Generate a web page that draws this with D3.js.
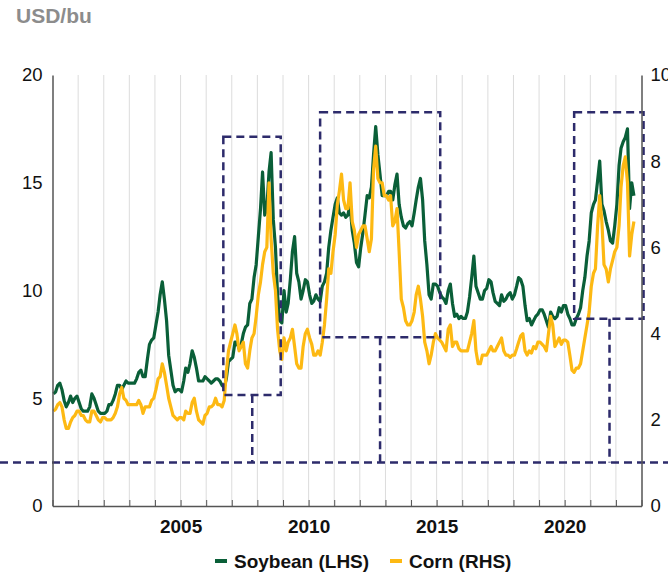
<!DOCTYPE html>
<html>
<head>
<meta charset="utf-8">
<script src="https://cdn.jsdelivr.net/npm/d3@7"></script>
<style>
  body { margin: 0; background: #fff; }
  .chart text { font-family: "Liberation Sans", Arial, sans-serif; }
</style>
</head>
<body>
<div class="chart"></div>
<script>
// Monthly prices, Jan 2000 - Sep 2022 (USD/bu)
var startYear = 2000;

var soybean = [
  5.2, 5.3, 5.6, 5.7, 5.4, 4.9, 4.6, 4.8, 5.1, 4.8, 5.0, 5.1,
  4.8, 4.5, 4.4, 4.4, 4.4, 4.6, 5.2, 5.0, 4.7, 4.4, 4.3, 4.3,
  4.3, 4.4, 4.7, 4.7, 4.9, 5.2, 5.6, 5.6, 5.4, 5.6, 5.8, 5.7,
  5.7, 5.7, 5.7, 5.9, 6.2, 6.3, 6.0, 6.0, 6.8, 7.5, 7.7, 7.8,
  8.4, 9.0, 9.8, 10.4, 9.6, 8.6, 7.0, 6.3, 5.6, 5.3, 5.4, 5.4,
  5.3, 5.8, 6.4, 6.2, 6.6, 7.2, 6.9, 6.4, 5.8, 5.8, 5.8, 6.0,
  5.9, 5.8, 5.7, 5.8, 5.9, 5.9, 5.8, 5.6, 5.5, 5.9, 6.7, 6.8,
  6.9, 7.6, 7.6, 7.3, 7.5, 8.0, 8.3, 8.4, 9.4, 9.6, 10.6, 11.2,
  12.5, 13.8, 15.5, 13.5, 13.8, 15.5, 16.4, 13.3, 12.0, 9.8, 8.6, 8.5,
  10.0, 9.0, 9.4, 10.5, 11.8, 12.5, 10.8, 10.4, 9.6, 10.0, 10.5, 10.4,
  9.8, 9.4, 9.5, 9.8, 9.6, 9.5, 10.2, 10.4, 10.8, 12.0, 12.8, 13.4,
  14.0, 14.3, 13.6, 13.5, 13.6, 13.4, 13.5, 14.0, 12.8, 12.2, 11.3, 11.1,
  12.0, 12.7, 13.5, 14.4, 14.3, 14.8, 16.3, 17.6, 16.3, 15.4, 14.4, 14.4,
  14.4, 14.6, 14.6, 14.2, 14.9, 15.4, 14.0, 13.4, 13.0, 12.9, 13.1, 13.2,
  13.0, 13.6, 14.2, 14.8, 15.2, 14.2, 12.3, 11.2, 9.8, 9.6, 10.3, 10.3,
  10.2, 9.9, 9.7, 9.6, 9.4, 10.0, 10.3, 9.4, 8.8, 8.9, 8.7, 8.8,
  8.7, 8.7, 9.0, 9.7, 10.6, 11.6, 10.2, 9.9, 9.6, 9.6, 10.0, 10.1,
  10.5, 10.4, 9.9, 9.5, 9.4, 9.3, 9.8, 9.5, 9.6, 9.8, 9.9, 9.6,
  9.8, 10.2, 10.6, 10.5, 10.2, 9.3, 8.6, 8.7, 8.4, 8.6, 8.8, 8.9,
  9.1, 9.1, 8.9, 8.6, 8.3, 9.0, 8.8, 8.7, 8.8, 9.2, 9.0, 9.3,
  9.3, 8.9, 8.7, 8.4, 8.4, 8.7, 8.9, 9.2, 10.0, 10.6, 11.6, 12.3,
  13.6, 14.0, 14.2, 15.1, 16.0, 14.0, 13.7, 13.2, 12.8, 12.3, 12.2, 13.0,
  14.0, 15.8, 16.6, 16.9, 17.1, 17.5, 13.8, 15.0, 14.4
];

var corn = [
  2.2, 2.25, 2.35, 2.4, 2.3, 2.0, 1.8, 1.8, 1.95, 2.05, 2.1, 2.2,
  2.2, 2.1, 2.1, 2.0, 1.95, 1.95, 2.2, 2.2, 2.1, 2.0, 1.95, 2.05,
  2.05, 2.0, 2.0, 2.0, 2.05, 2.15, 2.3, 2.6, 2.75, 2.5, 2.45, 2.35,
  2.35, 2.35, 2.35, 2.35, 2.45, 2.35, 2.15, 2.3, 2.3, 2.3, 2.45, 2.5,
  2.7, 2.95, 3.0, 3.3, 3.1, 2.8, 2.5, 2.3, 2.1, 2.05, 2.0, 2.05,
  2.05, 2.0, 2.2, 2.15, 2.15, 2.4, 2.5, 2.2, 2.0, 1.95, 1.9, 2.1,
  2.15, 2.3, 2.3, 2.35, 2.5, 2.35, 2.35, 2.3, 2.45, 3.1, 3.6, 3.8,
  4.0, 4.2, 4.0, 3.6, 3.7, 3.8, 3.3, 3.2, 3.6, 3.9, 4.0, 4.4,
  4.9, 5.2, 5.6, 5.9, 6.0, 7.5, 6.2, 5.4, 5.0, 4.1, 3.6, 3.4,
  3.9, 3.6, 3.8, 3.9, 4.1, 3.7, 3.3, 3.2, 3.2, 3.7, 4.0, 4.1,
  3.9, 3.75, 3.5, 3.5, 3.6, 3.5, 3.8, 4.2, 4.8, 5.5, 5.4, 5.9,
  6.3, 7.0, 7.3, 7.7, 7.1, 6.9, 6.9, 7.5, 6.6, 6.4, 6.0, 6.3,
  6.4, 6.5, 6.5, 6.2, 5.9, 6.2, 7.8, 8.35, 7.6, 7.5, 7.5, 7.2,
  7.2, 7.1, 7.2, 6.5, 6.6, 6.9, 5.9, 4.8, 4.6, 4.3, 4.2, 4.2,
  4.3, 4.5, 4.9, 5.1, 4.8, 4.4, 3.8, 3.6, 3.3, 3.5, 3.8, 4.0,
  3.9, 3.85, 3.8, 3.7, 3.6, 4.1, 4.2, 3.7, 3.8, 3.8, 3.65, 3.6,
  3.6, 3.6, 3.6, 3.8, 4.0, 4.3, 3.6, 3.3, 3.3, 3.5, 3.5, 3.5,
  3.6, 3.7, 3.6, 3.6, 3.7, 3.8, 3.9, 3.6, 3.5, 3.5, 3.45, 3.5,
  3.5, 3.65, 3.8, 3.95, 4.0, 3.6, 3.5, 3.6, 3.55, 3.7, 3.65, 3.8,
  3.8, 3.75, 3.7, 3.6, 4.0, 4.4, 4.2, 3.7, 3.8, 3.9, 3.75, 3.85,
  3.85, 3.8, 3.5, 3.15, 3.1, 3.2, 3.2, 3.3, 3.6, 3.9, 4.2, 4.5,
  5.1, 5.4, 5.5, 6.5, 7.2, 6.6, 5.6, 5.5, 5.2, 5.5, 5.7, 5.9,
  6.0, 6.5, 7.4, 7.9, 8.1, 7.5, 5.8, 6.3, 6.6
];

var leftTicks = [0, 5, 10, 15, 20];
var rightTicks = [0, 2, 4, 6, 8, 10];
var yearLabels = [2005, 2010, 2015, 2020];

// dashed annotation boxes (years, LHS units)
var boxStart = [2006.67, 2010.45, 2020.37];
var boxEnd = [2008.91, 2015.14, 2023.08];
var boxTop = [17.14, 18.27, 18.27];
var boxBottom = [5.15, 7.83, 8.69];
var boxStub = [2007.8, 2012.79, 2021.75];
var baseLevel = 2.02;

var svgWidth = 668;
var svgHeight = 572;
var margin = { top: 75, right: 26.5, bottom: 66, left: 52.5 };
var width = svgWidth - margin.left - margin.right;
var height = svgHeight - margin.top - margin.bottom;

var green = "#0a5f38";
var gold = "#fdb913";
var navy = "#2d2b6b";

var svg = d3.select(".chart").append("svg")
  .attr("width", svgWidth)
  .attr("height", svgHeight);

var chart = svg.append("g")
  .attr("transform", `translate(${margin.left}, ${margin.top})`);

var dates = soybean.map(function(d, i) { return new Date(startYear, i, 15); });

var x = d3.scaleTime()
  .domain([new Date(2000, 0, 1), new Date(2023, 0, 1)])
  .range([0, width]);
var yLeft = d3.scaleLinear().domain([0, 20]).range([height, 0]);
var yRight = d3.scaleLinear().domain([0, 10]).range([height, 0]);

function yearX(v) {
  var yr = Math.floor(v);
  var a = x(new Date(yr, 0, 1)), b = x(new Date(yr + 1, 0, 1));
  return a + (b - a) * (v - yr);
}

// Vertical gridlines
var years = d3.range(2001, 2023);
chart.selectAll(".grid")
  .data(years)
  .enter().append("line")
  .attr("class", "grid")
  .attr("x1", function(d) { return x(new Date(d, 0, 1)); })
  .attr("x2", function(d) { return x(new Date(d, 0, 1)); })
  .attr("y1", 0)
  .attr("y2", height)
  .attr("stroke", "#dcdcdc")
  .attr("stroke-width", 1);

// Lines
var soyLine = d3.line()
  .x(function(d, i) { return x(dates[i]); })
  .y(function(d) { return yLeft(d); });
var cornLine = d3.line()
  .x(function(d, i) { return x(dates[i]); })
  .y(function(d) { return yRight(d); });

chart.append("path")
  .datum(soybean)
  .attr("fill", "none")
  .attr("stroke", green)
  .attr("stroke-width", 3.2)
  .attr("stroke-linejoin", "round")
  .attr("d", soyLine);

chart.append("path")
  .datum(corn)
  .attr("fill", "none")
  .attr("stroke", gold)
  .attr("stroke-width", 3.2)
  .attr("stroke-linejoin", "round")
  .attr("d", cornLine);

// Dashed boxes
var dash = chart.append("g")
  .attr("fill", "none")
  .attr("stroke", navy)
  .attr("stroke-width", 2.5)
  .attr("stroke-dasharray", "8,5");

boxStart.forEach(function(s, i) {
  dash.append("rect")
    .attr("x", yearX(s))
    .attr("y", yLeft(boxTop[i]))
    .attr("width", yearX(boxEnd[i]) - yearX(s))
    .attr("height", yLeft(boxBottom[i]) - yLeft(boxTop[i]));
  dash.append("line")
    .attr("x1", yearX(boxStub[i]))
    .attr("x2", yearX(boxStub[i]))
    .attr("y1", yLeft(boxBottom[i]))
    .attr("y2", yLeft(baseLevel));
});

dash.append("line")
  .attr("x1", -margin.left)
  .attr("x2", width + margin.right)
  .attr("y1", yLeft(baseLevel))
  .attr("y2", yLeft(baseLevel));

// Axes
var xAxis = d3.axisBottom(x)
  .ticks(d3.timeYear.every(1))
  .tickSizeInner(-6)
  .tickSizeOuter(0)
  .tickPadding(14)
  .tickFormat(function(d) {
    var yr = d.getFullYear();
    return yearLabels.indexOf(yr) >= 0 ? yr : "";
  });

var gx = chart.append("g")
  .attr("transform", `translate(0,${height})`)
  .call(xAxis);
gx.select(".domain").attr("stroke", "#555").attr("stroke-width", 1.5);
gx.selectAll(".tick line").attr("stroke", "#555");
gx.selectAll("text")
  .attr("fill", "#111")
  .style("font-size", "19px")
  .style("font-weight", "bold");

var gl = chart.append("g")
  .call(d3.axisLeft(yLeft).tickValues(leftTicks).tickSize(0).tickPadding(10));
gl.select(".domain").attr("stroke", "#555").attr("stroke-width", 1.5);
gl.selectAll("text").attr("fill", "#111").style("font-size", "18.5px");

var gr = chart.append("g")
  .attr("transform", `translate(${width},0)`)
  .call(d3.axisRight(yRight).tickValues(rightTicks).tickSize(0).tickPadding(9));
gr.select(".domain").attr("stroke", "#555").attr("stroke-width", 1.5);
gr.selectAll("text").attr("fill", "#111").style("font-size", "18.5px");

// Unit label
svg.append("text")
  .attr("x", 16)
  .attr("y", 23)
  .attr("fill", "#8c8c8c")
  .style("font-size", "21px")
  .style("font-weight", "bold")
  .text("USD/bu");

// Legend
var legend = svg.append("g")
  .attr("transform", "translate(0,561)");
var items = [
  { name: "Soybean (LHS)", color: green, x: 215 },
  { name: "Corn (RHS)", color: gold, x: 390 }
];
items.forEach(function(it) {
  legend.append("line")
    .attr("x1", it.x).attr("x2", it.x + 12)
    .attr("y1", 0).attr("y2", 0)
    .attr("stroke", it.color)
    .attr("stroke-width", 4);
  legend.append("text")
    .attr("x", it.x + 19)
    .attr("dy", "0.35em")
    .attr("fill", "#111")
    .style("font-size", "19px")
    .style("font-weight", "bold")
    .text(it.name);
});
</script>
</body>
</html>
